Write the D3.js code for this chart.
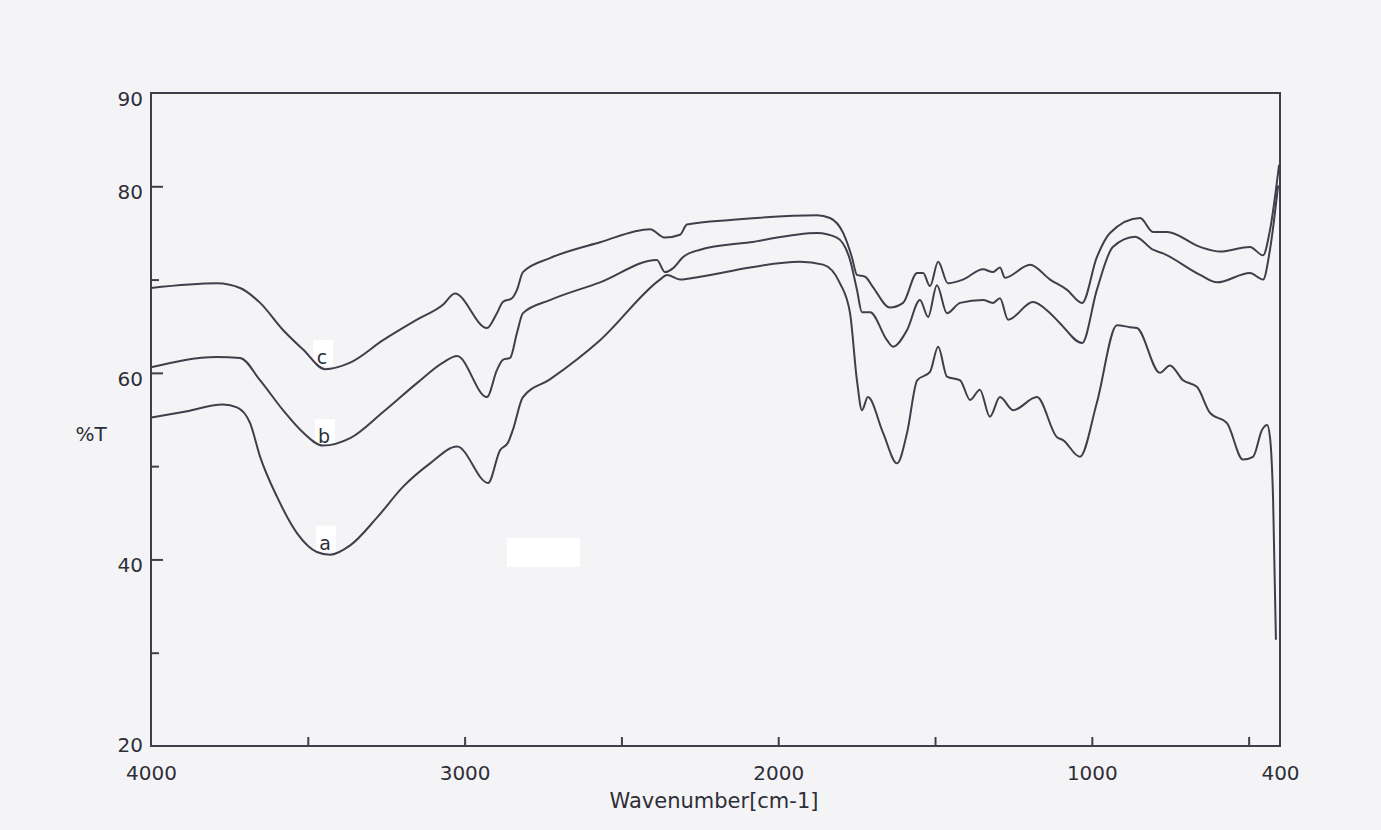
<!DOCTYPE html>
<html>
<head>
<meta charset="utf-8">
<script src="https://cdn.jsdelivr.net/npm/d3@7/dist/d3.min.js"></script>
<style>
  html, body { margin: 0; padding: 0; background: #f4f4f6; }
  svg { display: block; }
  text { font-family: "DejaVu Sans", Verdana, sans-serif; fill: #2e2e38; }
</style>
</head>
<body>
<svg id="chart" width="1381" height="830"></svg>
<script>
// ---- data ----
const waveA = [4000,3898,3770,3726,3684,3652,3598,3534,3471,3429,3365,3279,3196,3110,3024,2925,2887,2862,2846,2814,2728,2568,2377,2355,2313,2249,2090,1931,1857,1803,1771,1749,1733,1714,1666,1621,1589,1557,1516,1490,1462,1420,1388,1357,1325,1293,1251,1175,1111,1092,1038,984,920,878,856,783,751,709,665,623,569,518,486,457,441,432,422,413];
const transA = [55.2,55.8,56.6,56.3,54.6,51.0,46.7,42.8,40.8,40.5,41.5,44.5,47.8,50.3,52.1,48.2,51.7,52.5,53.9,57.4,59.3,63.5,70.0,70.5,70.0,70.3,71.3,71.9,71.6,69.6,66.4,59.2,56.0,57.4,53.6,50.3,53.6,59.2,60.1,62.8,59.6,59.2,57.1,58.2,55.3,57.4,56.0,57.4,53.1,52.8,51.0,56.8,65.1,64.9,64.8,60.0,60.8,59.2,58.5,55.7,54.6,50.7,51.0,53.9,54.4,53.1,46.4,31.4];

const waveB = [4000,3790,3716,3652,3579,3515,3452,3365,3260,3152,3069,3024,2929,2897,2878,2855,2833,2814,2728,2568,2387,2361,2336,2304,2249,2090,1876,1813,1771,1749,1733,1707,1653,1634,1589,1548,1522,1494,1462,1420,1347,1315,1293,1267,1188,1133,1101,1031,984,933,862,805,773,655,601,496,454,432,406];
const transB = [60.6,61.7,61.6,59.2,56.0,53.6,52.2,53.0,55.8,58.9,61.1,61.8,57.4,60.3,61.4,61.6,64.3,66.4,67.8,69.7,72.1,70.8,71.2,72.4,73.2,74.0,75.0,74.5,72.1,68.9,66.5,66.5,63.5,62.8,64.6,67.8,66.0,69.4,66.4,67.5,67.8,67.5,68.0,65.7,67.6,66.4,65.3,63.2,68.9,73.5,74.6,73.2,72.8,70.5,69.7,70.7,70.0,73.2,80.1];

const waveC = [4000,3790,3716,3652,3579,3515,3445,3365,3260,3152,3069,3031,2929,2897,2878,2849,2833,2814,2728,2568,2409,2361,2313,2291,2144,1876,1835,1793,1765,1749,1723,1698,1644,1602,1557,1538,1516,1490,1459,1411,1347,1315,1293,1277,1197,1133,1079,1031,984,942,846,805,760,655,591,496,454,432,403];
const transC = [69.1,69.6,69.1,67.5,64.6,62.5,60.4,61.1,63.5,65.7,67.3,68.5,64.8,66.4,67.6,68.0,68.9,70.8,72.3,74.0,75.4,74.5,74.8,75.9,76.4,76.9,76.6,75.0,72.4,70.5,70.3,69.2,67.0,67.5,70.7,70.7,69.3,71.9,69.6,70.0,71.1,70.8,71.3,70.2,71.6,70.0,68.9,67.5,72.4,75.0,76.6,75.1,75.1,73.5,73.0,73.5,72.6,75.3,82.3];

const seriesNames = ["a", "b", "c"];
const labelWave = [3445, 3448, 3455];
const labelTrans = [41.8, 53.2, 61.7];

const xLabelTicks = [4000, 3000, 2000, 1000, 400];
const xMarkTicks = [3500, 3000, 2500, 2000, 1500, 1000, 500];
const yLabelTicks = [90, 80, 60, 40, 20];
const yMajorTicks = [80, 60, 40];
const yMinorTicks = [70, 50, 30];

const xTitle = "Wavenumber[cm-1]";
const yTitle = "%T";

// ---- drawing ----
const svg = d3.select("#chart");
const ink = "#3f3f4c";
const x = d3.scaleLinear().domain([4000, 400]).range([151, 1280]);
const y = d3.scaleLinear().domain([20, 90]).range([746, 93]);

// scan artefact patch
svg.append("rect").attr("x", 507).attr("y", 538).attr("width", 73).attr("height", 29).attr("fill", "#ffffff");

// series label boxes (under the curves)
const boxes = svg.append("g");
seriesNames.forEach((n, i) => {
  const cx = x(labelWave[i]), cy = y(labelTrans[i]);
  boxes.append("rect").attr("x", cx - 9).attr("y", cy - 17).attr("width", 20).attr("height", 26).attr("fill", "#ffffff");
});

// spectra
const series = [
  waveA.map((w, i) => [w, transA[i]]),
  waveB.map((w, i) => [w, transB[i]]),
  waveC.map((w, i) => [w, transC[i]])
];
const line = d3.line().x(d => x(d[0])).y(d => y(d[1])).curve(d3.curveMonotoneX);
svg.append("g").selectAll("path").data(series).join("path")
  .attr("d", line).attr("fill", "none").attr("stroke", ink)
  .attr("stroke-width", 2).attr("stroke-linejoin", "round");

// series labels
const lab = svg.append("g");
seriesNames.forEach((n, i) => {
  const cx = x(labelWave[i]), cy = y(labelTrans[i]);
  lab.append("text").attr("x", cx).attr("y", cy).attr("text-anchor", "middle")
    .attr("dominant-baseline", "central").style("font-size", "19px").text(n);
});

// frame
const frame = svg.append("g").attr("stroke", ink).attr("stroke-width", 2).attr("fill", "none");
frame.append("rect").attr("x", x(4000)).attr("y", y(90))
  .attr("width", x(400) - x(4000)).attr("height", y(20) - y(90));

// x axis tick marks (inward)
const xMarks = d3.axisBottom(x).tickValues(xMarkTicks).tickSize(-9).tickFormat("");
const gxm = svg.append("g").attr("transform", `translate(0,${y(20)})`).call(xMarks);
gxm.select(".domain").remove();
gxm.selectAll("line").attr("stroke", ink).attr("stroke-width", 2);

// x axis labels
const xLabels = d3.axisBottom(x).tickValues(xLabelTicks).tickSize(0).tickPadding(0).tickFormat(d3.format("d"));
const gxl = svg.append("g").attr("transform", `translate(0,${y(20)})`).call(xLabels);
gxl.select(".domain").remove();
gxl.selectAll("text").attr("y", 34).attr("dy", null).style("font-size", "20px").style("font-family", "DejaVu Sans").attr("fill", "#2e2e38");

// y axis ticks (inward)
const yMaj = d3.axisLeft(y).tickValues(yMajorTicks).tickSize(-12).tickFormat("");
const gym = svg.append("g").attr("transform", `translate(${x(4000)},0)`).call(yMaj);
gym.select(".domain").remove();
gym.selectAll("line").attr("stroke", ink).attr("stroke-width", 2);
const yMin = d3.axisLeft(y).tickValues(yMinorTicks).tickSize(-8).tickFormat("");
const gyn = svg.append("g").attr("transform", `translate(${x(4000)},0)`).call(yMin);
gyn.select(".domain").remove();
gyn.selectAll("line").attr("stroke", ink).attr("stroke-width", 2);

// y axis labels
const yLabels = d3.axisLeft(y).tickValues(yLabelTicks).tickSize(0).tickPadding(0).tickFormat(d3.format("d"));
const gyl = svg.append("g").attr("transform", `translate(${x(4000)},0)`).call(yLabels);
gyl.select(".domain").remove();
gyl.selectAll("text").attr("x", -8).attr("dy", d => d === 20 ? "0.25em" : "0.62em")
  .style("font-size", "20px").style("font-family", "DejaVu Sans").attr("fill", "#2e2e38");

// titles
svg.append("text").attr("x", 714).attr("y", 808).attr("text-anchor", "middle").style("font-size", "21px").text(xTitle);
svg.append("text").attr("x", 91).attr("y", 441).attr("text-anchor", "middle").style("font-size", "20px").text(yTitle);
</script>
</body>
</html>
